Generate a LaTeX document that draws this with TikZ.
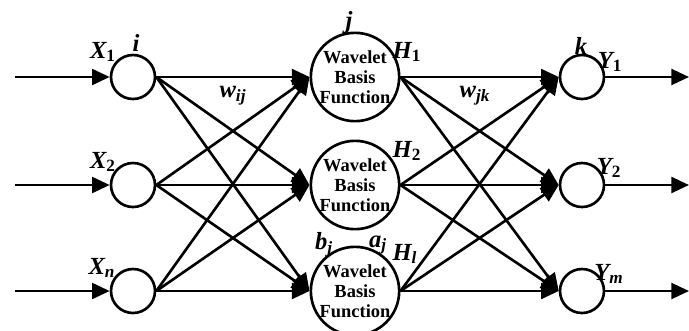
\documentclass[tikz,border=0pt]{standalone}
\usepackage{fontspec}
\setmainfont{Liberation Serif}
\usetikzlibrary{arrows.meta}

\newcommand{\up}[1]{\textsubscript{\upshape #1}}

\begin{document}
\begin{tikzpicture}[line width=1.5pt,
  unit/.style={draw,circle,minimum size=0.88cm,inner sep=0pt},
  wavelet/.style={draw,circle,minimum size=1.76cm,inner sep=0pt,align=center,font=\fontsize{10.5}{11.5}\selectfont\bfseries},
  lab/.style={inner sep=0pt,font=\fontsize{14}{16}\selectfont\bfseries\itshape},
  link/.style={-{Triangle[length=10pt,width=9pt]}}]
\useasboundingbox (0,0) rectangle (13.78,6.6);
% input layer
\node[unit] (x1) at (2.66,5.06){};
\node[unit] (x2) at (2.66,2.90){};
\node[unit] (xn) at (2.66,0.78){};
% hidden layer
\node[wavelet] (h1) at (7.10,5.06){Wavelet\\Basis\\Function};
\node[wavelet] (h2) at (7.10,2.90){Wavelet\\Basis\\Function};
\node[wavelet] (hl) at (7.10,0.78){Wavelet\\Basis\\Function};
% output layer
\node[unit] (y1) at (11.64,5.06){};
\node[unit] (y2) at (11.64,2.90){};
\node[unit] (ym) at (11.64,0.78){};
% free ends
\coordinate (in1) at (0.30,5.06);
\coordinate (in2) at (0.30,2.90);
\coordinate (inn) at (0.30,0.78);
\coordinate (out1) at (13.78,5.06);
\coordinate (out2) at (13.78,2.90);
\coordinate (outm) at (13.78,0.78);
% connectors
\draw[link] (in1) -- (x1.west); \draw[link] (in2) -- (x2.west); \draw[link] (inn) -- (xn.west);
\draw[link] (x1.east) -- (h1.west); \draw[link] (x1.east) -- (h2.west); \draw[link] (x1.east) -- (hl.west);
\draw[link] (x2.east) -- (h1.west); \draw[link] (x2.east) -- (h2.west); \draw[link] (x2.east) -- (hl.west);
\draw[link] (xn.east) -- (h1.west); \draw[link] (xn.east) -- (h2.west); \draw[link] (xn.east) -- (hl.west);
\draw[link] (h1.east) -- (y1.west); \draw[link] (h1.east) -- (y2.west); \draw[link] (h1.east) -- (ym.west);
\draw[link] (h2.east) -- (y1.west); \draw[link] (h2.east) -- (y2.west); \draw[link] (h2.east) -- (ym.west);
\draw[link] (hl.east) -- (y1.west); \draw[link] (hl.east) -- (y2.west); \draw[link] (hl.east) -- (ym.west);
\draw[link] (y1.east) -- (out1); \draw[link] (y2.east) -- (out2); \draw[link] (ym.east) -- (outm);
% labels
\node[lab] (lx1) at (2.06,5.56){X\up{1}};
\node[lab] (lx2) at (2.06,3.36){X\up{2}};
\node[lab] (lxn) at (2.04,1.24){X\textsubscript{n}};
\node[lab] (li) at (2.72,5.74){i};
\node[lab] (lwij) at (4.66,4.68){w\textsubscript{ij}};
\node[lab] (lj) at (6.98,6.14){j};
\node[lab] (lh1) at (8.14,5.56){H\up{1}};
\node[lab] (lh2) at (8.14,3.58){H\up{2}};
\node[lab] (lhl) at (8.10,1.52){H\textsubscript{l}};
\node[lab] (lbj) at (6.48,1.70){b\textsubscript{j}};
\node[lab] (laj) at (7.56,1.70){a\textsubscript{j}};
\node[lab] (lwjk) at (9.50,4.68){w\textsubscript{jk}};
\node[lab] (lk) at (11.62,5.68){k};
\node[lab] (ly1) at (12.20,5.36){Y\up{1}};
\node[lab] (ly2) at (12.18,3.24){Y\up{2}};
\node[lab] (lym) at (12.18,1.12){Y\textsubscript{m}};
\end{tikzpicture}
\end{document}
